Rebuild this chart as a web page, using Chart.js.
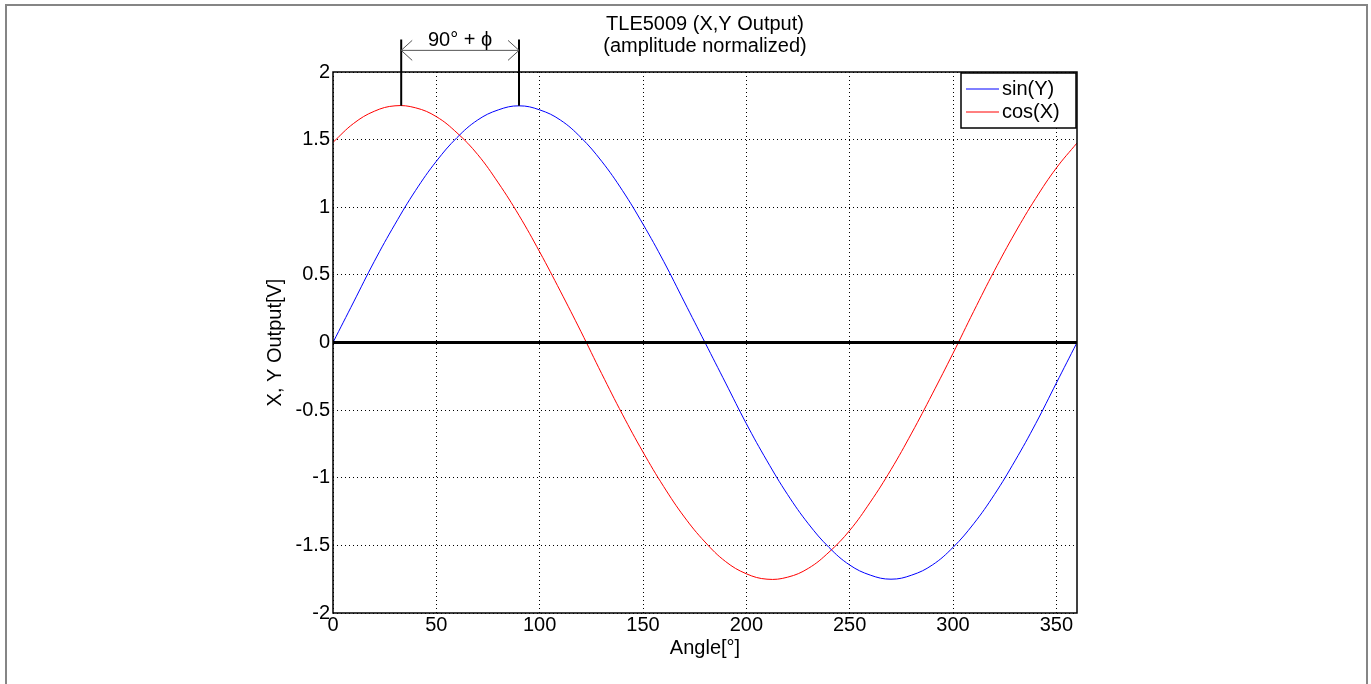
<!DOCTYPE html>
<html>
<head>
<meta charset="utf-8">
<script src="https://cdn.jsdelivr.net/npm/chart.js@4/dist/chart.umd.min.js"></script>
<style>
  html, body { margin: 0; padding: 0; background: #fff; }
  canvas { display: block; }
</style>
</head>
<body>
<canvas id="myChart" width="1371" height="684"></canvas>
<script>
// angle in degrees, read every 10 deg off the picture
const angles = [0, 10, 20, 30, 40, 50, 60, 70, 80, 90, 100, 110, 120, 130, 140, 150, 160, 170, 180,
  190, 200, 210, 220, 230, 240, 250, 260, 270, 280, 290, 300, 310, 320, 330, 340, 350, 360];
const sinY = [0, 0.30, 0.60, 0.875, 1.125, 1.34, 1.515, 1.645, 1.72, 1.75, 1.72, 1.645, 1.515, 1.34, 1.125, 0.875, 0.60, 0.30, 0,
  -0.30, -0.60, -0.875, -1.125, -1.34, -1.515, -1.645, -1.72, -1.75, -1.72, -1.645, -1.515, -1.34, -1.125, -0.875, -0.60, -0.30, 0];
const cosX = [1.48, 1.62, 1.71, 1.75, 1.735, 1.67, 1.55, 1.39, 1.18, 0.94, 0.67, 0.38, 0.08, -0.23, -0.53, -0.81, -1.065, -1.29, -1.475,
  -1.62, -1.71, -1.75, -1.735, -1.67, -1.55, -1.39, -1.18, -0.94, -0.67, -0.38, -0.08, 0.23, 0.53, 0.81, 1.065, 1.29, 1.475];

const xTicks = [0, 50, 100, 150, 200, 250, 300, 350];
const yTicks = [-2, -1.5, -1, -0.5, 0, 0.5, 1, 1.5, 2];

// the "90° + phi" marker: peak angles of cos(X) and sin(Y)
const markerAngles = [33, 90];
const markerPeak = 1.75;
const markerTop = 2.24;
const markerArrow = 2.16;
const markerText = '90° + ϕ';

const titleLines = ['TLE5009 (X,Y Output)', '(amplitude normalized)'];

const FONT = '"Liberation Sans", Arial, sans-serif';

const decor = {
  id: 'decor',
  beforeDraw(chart) {
    const ctx = chart.ctx;
    ctx.save();
    ctx.fillStyle = '#fff';
    ctx.fillRect(0, 0, chart.width, chart.height);
    ctx.strokeStyle = '#858585';
    ctx.lineWidth = 2;
    ctx.beginPath();
    ctx.moveTo(6, chart.height + 5);
    ctx.lineTo(6, 5);
    ctx.lineTo(chart.width - 4, 5);
    ctx.lineTo(chart.width - 4, chart.height + 5);
    ctx.stroke();
    ctx.restore();
  },
  afterDatasetsDraw(chart) {
    const ctx = chart.ctx;
    const a = chart.chartArea;
    const xs = chart.scales.x, ys = chart.scales.y;
    ctx.save();

    // axes box
    ctx.strokeStyle = '#000';
    ctx.lineWidth = 1.5;
    ctx.strokeRect(a.left, a.top, a.right - a.left, a.bottom - a.top);

    // thick zero line
    const y0 = ys.getPixelForValue(0);
    ctx.lineWidth = 3;
    ctx.beginPath();
    ctx.moveTo(a.left, y0);
    ctx.lineTo(a.right, y0);
    ctx.stroke();

    // phase marker
    const px = markerAngles.map(v => xs.getPixelForValue(v));
    const yPeak = ys.getPixelForValue(markerPeak);
    const yTop = ys.getPixelForValue(markerTop);
    const yArr = ys.getPixelForValue(markerArrow);
    ctx.lineWidth = 2;
    ctx.strokeStyle = '#000';
    ctx.beginPath();
    px.forEach(x => { ctx.moveTo(x, yPeak); ctx.lineTo(x, yTop); });
    ctx.stroke();
    ctx.lineWidth = 1;
    ctx.strokeStyle = '#555';
    ctx.beginPath();
    ctx.moveTo(px[0], yArr); ctx.lineTo(px[1], yArr);
    ctx.moveTo(px[0] + 11, yArr - 10); ctx.lineTo(px[0], yArr); ctx.lineTo(px[0] + 11, yArr + 10);
    ctx.moveTo(px[1] - 11, yArr - 10); ctx.lineTo(px[1], yArr); ctx.lineTo(px[1] - 11, yArr + 10);
    ctx.stroke();
    ctx.fillStyle = '#000';
    ctx.font = '20px ' + FONT;
    ctx.textAlign = 'center';
    ctx.textBaseline = 'middle';
    ctx.fillText(markerText, (px[0] + px[1]) / 2, yArr - 10);

    // titles
    const cx = (a.left + a.right) / 2;
    ctx.fillText(titleLines[0], cx, a.top - 48);
    ctx.fillText(titleLines[1], cx, a.top - 26);

    // legend
    const lw = 115, lh = 55;
    const lx = a.right - lw - 1, ly = a.top + 1;
    ctx.fillStyle = '#fff';
    ctx.fillRect(lx, ly, lw, lh);
    ctx.strokeStyle = '#000';
    ctx.lineWidth = 1.5;
    ctx.strokeRect(lx, ly, lw, lh);
    ctx.textAlign = 'left';
    chart.data.datasets.forEach((ds, i) => {
      const ry = ly + 16 + i * 23;
      ctx.strokeStyle = ds.borderColor;
      ctx.lineWidth = 1;
      ctx.beginPath();
      ctx.moveTo(lx + 5, ry);
      ctx.lineTo(lx + 38, ry);
      ctx.stroke();
      ctx.fillStyle = '#000';
      ctx.fillText(ds.label, lx + 41, ry);
    });
    ctx.restore();
  }
};

new Chart(document.getElementById('myChart').getContext('2d'), {
  type: 'line',
  data: {
    datasets: [
      {
        label: 'sin(Y)',
        data: angles.map((t, i) => ({ x: t, y: sinY[i] })),
        borderColor: '#0000ff',
        borderWidth: 1,
        pointRadius: 0,
        tension: 0.4,
        fill: false
      },
      {
        label: 'cos(X)',
        data: angles.map((t, i) => ({ x: t, y: cosX[i] })),
        borderColor: '#ff0000',
        borderWidth: 1,
        pointRadius: 0,
        tension: 0.4,
        fill: false
      }
    ]
  },
  options: {
    responsive: false,
    animation: false,
    devicePixelRatio: 1,
    layout: { padding: { left: 255, right: 294, top: 72, bottom: 21 } },
    plugins: {
      legend: { display: false },
      tooltip: { enabled: false }
    },
    scales: {
      x: {
        type: 'linear',
        min: 0,
        max: 360,
        afterBuildTicks: s => { s.ticks = xTicks.map(v => ({ value: v })); },
        afterFit: s => { s.height = 50; },
        grid: { color: '#000', lineWidth: 1, drawTicks: false },
        border: { display: false, dash: [1, 3] },
        ticks: { color: '#000', padding: 0, maxRotation: 0, callback: v => String(v), font: { family: FONT, size: 20 } },
        title: { display: true, text: 'Angle[°]', color: '#000', padding: { top: 0, bottom: 3 }, font: { family: FONT, size: 20 } }
      },
      y: {
        min: -2,
        max: 2,
        afterBuildTicks: s => { s.ticks = yTicks.map(v => ({ value: v })); },
        afterFit: s => { s.width = 78; },
        grid: { color: '#000', lineWidth: 1, drawTicks: false },
        border: { display: false, dash: [1, 3] },
        ticks: { color: '#000', padding: 3, callback: v => String(v), font: { family: FONT, size: 20 } },
        title: { display: true, text: 'X, Y Output[V]', color: '#000', padding: { top: 8, bottom: 0 }, font: { family: FONT, size: 20 } }
      }
    }
  },
  plugins: [decor]
});
</script>
</body>
</html>
